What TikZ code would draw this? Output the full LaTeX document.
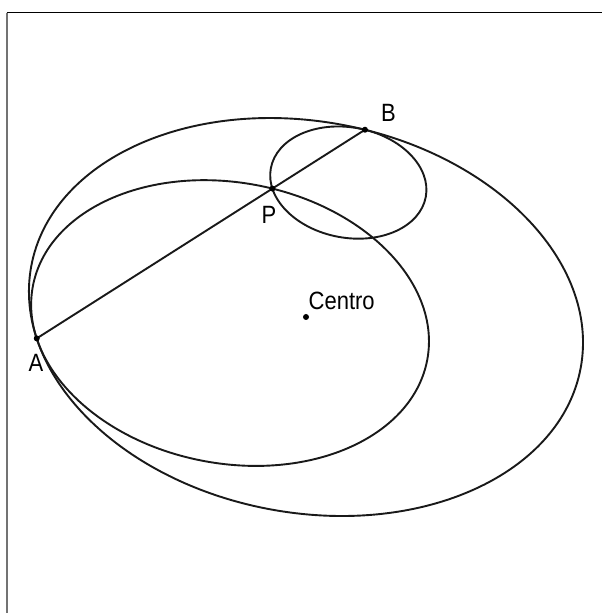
\documentclass[tikz,border=0pt]{standalone}
\usepackage{fontspec}
\setmainfont{Liberation Sans}
\usetikzlibrary{calc}
\newcommand\lbl[1]{\scalebox{0.88}[1]{\fontsize{25}{25}\selectfont #1}}
\tikzset{
  curve/.style={line width=1.9pt, black!90},
  dotpt/.style={fill=black},
  lab/.style={inner sep=0pt, anchor=base}
}
\begin{document}
\begin{tikzpicture}[x=1pt,y=1pt]
\useasboundingbox (0,0) rectangle (602,613);
% frame
\draw[line width=1.2pt] (6.7,600.3) -- (602,600.3);
\draw[line width=1.8pt, black!55] (6.7,600.3) -- (6.7,0);
% big ellipse and points
\coordinate (C) at (306,296);
\begin{scope}[shift={(C)}, rotate=-10.5]
  \coordinate (A) at ({279.4*cos(201)},{195.6*sin(201)});
  \coordinate (B) at ({279.4*cos(85.1)},{195.6*sin(85.1)});
\end{scope}
\coordinate (P) at ($(A)!0.718!(B)$);
\coordinate (C1) at ($(A)!0.718!(C)$);
\coordinate (C2) at ($(B)!0.282!(C)$);
\draw[curve, rotate around={-10.5:(C)}] (C) ellipse [x radius=279.4pt, y radius=195.6pt];
\draw[curve, rotate around={-10.5:(C1)}] (C1) ellipse [x radius=0.718*279.4pt, y radius=0.718*195.6pt];
\draw[curve, rotate around={-10.5:(C2)}] (C2) ellipse [x radius=0.282*279.4pt, y radius=0.282*195.6pt];
\draw[curve] (A) -- (B);
\foreach \p in {A,B,P,C} \fill[dotpt] (\p) circle (3pt);
% labels
\node[lab] (lA) at (36,241.3) {\lbl{A}};
\node[lab] (lB) at (388.5,491.3) {\lbl{B}};
\node[lab] (lP) at (269,389.7) {\lbl{P}};
\node[lab] (lC) at (341.7,303.7) {\lbl{Centro}};
\end{tikzpicture}
\end{document}
